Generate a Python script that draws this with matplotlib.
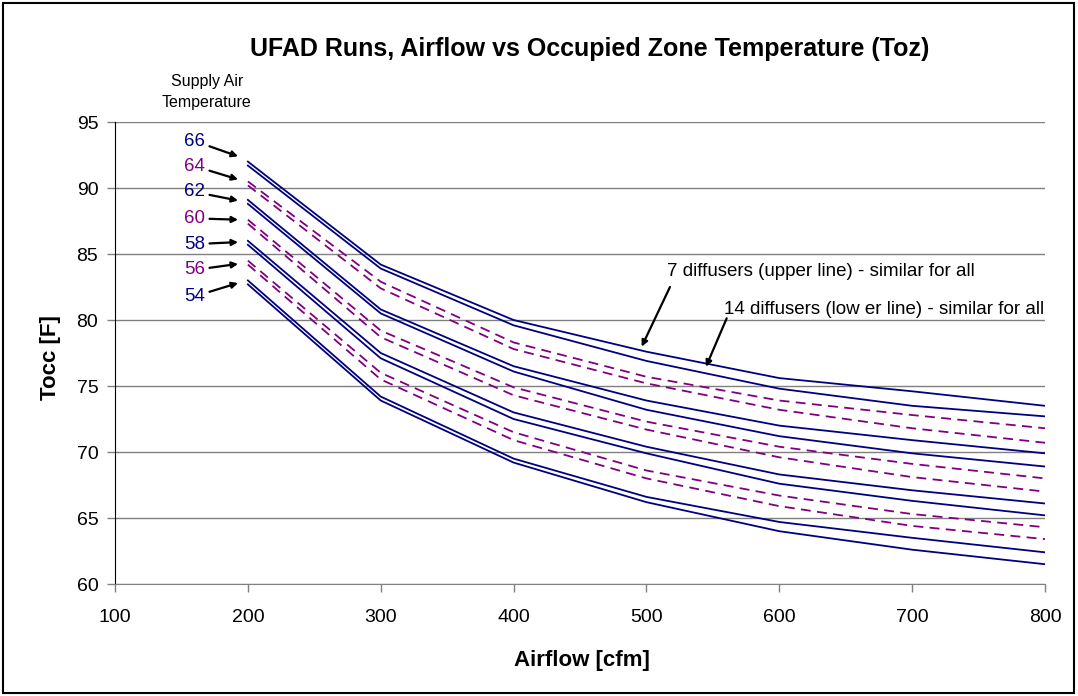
import matplotlib
matplotlib.use("Agg")
import matplotlib.pyplot as plt
from matplotlib.patches import Rectangle

plt.rcParams['font.family'] = ['Liberation Sans', 'DejaVu Sans']

airflow = [200, 300, 400, 500, 600, 700, 800]
supply_temps = [66, 64, 62, 60, 58, 56, 54]

# upper line = 7 diffusers, lower line = 14 diffusers
t66_7 = [92.0, 84.2, 80.0, 77.6, 75.6, 74.6, 73.5]
t66_14 = [91.7, 83.9, 79.6, 76.9, 74.8, 73.5, 72.7]
t64_7 = [90.5, 82.9, 78.3, 75.7, 73.9, 72.8, 71.8]
t64_14 = [90.2, 82.4, 77.8, 75.2, 73.2, 71.8, 70.7]
t62_7 = [89.1, 80.8, 76.5, 73.9, 72.0, 70.9, 69.9]
t62_14 = [88.8, 80.5, 76.1, 73.2, 71.2, 69.9, 68.9]
t60_7 = [87.6, 79.2, 74.9, 72.3, 70.4, 69.1, 68.0]
t60_14 = [87.3, 78.7, 74.3, 71.7, 69.6, 68.1, 67.0]
t58_7 = [86.0, 77.5, 73.0, 70.4, 68.3, 67.1, 66.1]
t58_14 = [85.7, 77.1, 72.5, 69.9, 67.6, 66.3, 65.2]
t56_7 = [84.5, 76.0, 71.5, 68.6, 66.7, 65.3, 64.3]
t56_14 = [84.2, 75.5, 70.9, 68.0, 65.9, 64.4, 63.4]
t54_7 = [83.0, 74.2, 69.5, 66.6, 64.7, 63.5, 62.4]
t54_14 = [82.7, 73.9, 69.2, 66.2, 64.0, 62.6, 61.5]

series = {
    66: (t66_7, t66_14), 64: (t64_7, t64_14), 62: (t62_7, t62_14),
    60: (t60_7, t60_14), 58: (t58_7, t58_14), 56: (t56_7, t56_14),
    54: (t54_7, t54_14),
}

# label positions (y of text) and arrow tips for supply temperature labels
label_y = [93.55, 91.65, 89.7, 87.7, 85.75, 83.8, 81.8]
tip_y = [92.4, 90.65, 89.05, 87.6, 85.9, 84.25, 82.8]

NAVY = '#000080'
PURPLE = '#800080'

fig = plt.figure(figsize=(10.78, 6.96), dpi=100)
ax = fig.add_axes([0.1067, 0.1609, 0.8627, 0.6638])

for t in supply_temps:
    up, lo = series[t]
    if t in (66, 62, 58, 54):
        kw = dict(color=NAVY, lw=1.3, ls='-')
    else:
        kw = dict(color=PURPLE, lw=1.3, ls=(0, (5.5, 3.5)))
    ax.plot(airflow, up, **kw)
    ax.plot(airflow, lo, **kw)

ax.set_xlim(100, 800)
ax.set_ylim(60, 95)
ax.set_xticks(range(100, 801, 100))
ax.set_yticks(range(60, 96, 5))
ax.yaxis.grid(True, color='#808080', lw=1.0)
ax.set_axisbelow(True)
for s in ('top', 'right'):
    ax.spines[s].set_visible(False)
ax.spines['left'].set_color('black')
ax.spines['bottom'].set_color('#808080')
ax.tick_params(axis='both', direction='out', length=6, labelsize=14,
               color='#808080', width=1.0)
ax.tick_params(axis='y', pad=6)
ax.tick_params(axis='x', pad=12)

ax.set_xlabel('Airflow [cfm]', fontsize=16, fontweight='bold', va='center')
ax.xaxis.set_label_coords(0.502, -0.165)
ax.set_ylabel('Tocc [F]', fontsize=16, fontweight='bold', va='center')
ax.yaxis.set_label_coords(-0.069, 0.49)
fig.text(0.547, 0.929, 'UFAD Runs, Airflow vs Occupied Zone Temperature (Toz)',
         ha='center', va='center', fontsize=18, fontweight='bold')
fig.text(0.192, 0.868, 'Supply Air\nTemperature', ha='center', va='center',
         fontsize=11.5, linespacing=1.5)

for t, ly, ty in zip(supply_temps, label_y, tip_y):
    col = NAVY if t in (66, 62, 58, 54) else PURPLE
    ax.annotate(str(t), xy=(192.6, ty), xytext=(168, ly),
                ha='right', va='center', fontsize=13.5, color=col,
                arrowprops=dict(arrowstyle='-|>', color='black', lw=1.6,
                                mutation_scale=9, shrinkA=1, shrinkB=0),
                annotation_clip=False)

ax.text(631.2, 83.66, '7 diffusers (upper line) - similar for all',
        ha='center', va='center', fontsize=13.5)
ax.text(678.9, 80.76, '14 diffusers (low er line) - similar for all',
        ha='center', va='center', fontsize=13.5)
ax.annotate('', xy=(496.4, 77.98), xytext=(517.7, 82.5),
            arrowprops=dict(arrowstyle='-|>', color='black', lw=1.6,
                            mutation_scale=9, shrinkA=0, shrinkB=0))
ax.annotate('', xy=(544.8, 76.46), xytext=(560.4, 80.13),
            arrowprops=dict(arrowstyle='-|>', color='black', lw=1.6,
                            mutation_scale=9, shrinkA=0, shrinkB=0))

fig.patches.append(Rectangle((0.003, 0.004), 0.993, 0.991, transform=fig.transFigure,
                             fill=False, edgecolor='black', lw=1.5))

fig.savefig('out.png', dpi=100)
